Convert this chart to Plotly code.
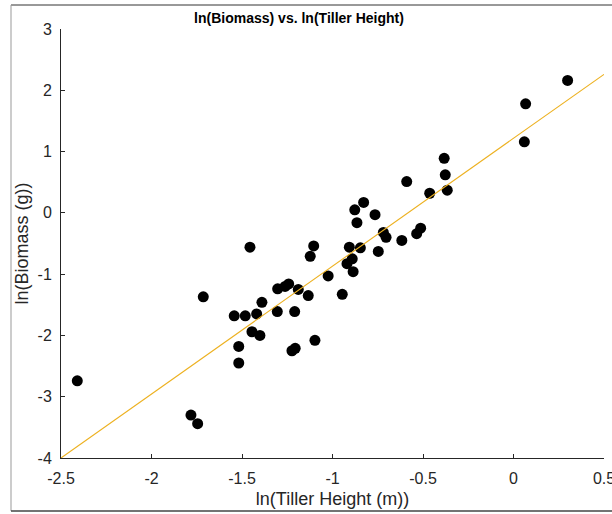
import plotly.graph_objects as go

ln_height = [-2.41, -1.782, -1.745, -1.714, -1.543, -1.482, -1.419, -1.390, -1.445, -1.401,
             -1.518, -1.518, -1.305, -1.303, -1.262, -1.242, -1.189, -1.209, -1.134, -1.224,
             -1.206, -1.097, -1.456, -1.104, -1.123, -0.946, -1.024, -0.886, -0.920, -0.891,
             -0.907, -0.846, -0.747, -0.617, -0.704, -0.719, -0.535, -0.513, -0.865, -0.765,
             -0.877, -0.828, -0.590, -0.463, -0.366, -0.377, -0.383, 0.060, 0.067, 0.299]
ln_biomass = [-2.74, -3.30, -3.44, -1.37, -1.68, -1.68, -1.65, -1.46, -1.94, -2.00,
              -2.18, -2.45, -1.61, -1.24, -1.20, -1.16, -1.25, -1.61, -1.35, -2.25,
              -2.21, -2.08, -0.56, -0.54, -0.71, -1.33, -1.03, -0.96, -0.83, -0.75,
              -0.56, -0.57, -0.63, -0.45, -0.40, -0.32, -0.34, -0.25, -0.16, -0.03,
              0.05, 0.17, 0.51, 0.32, 0.37, 0.62, 0.89, 1.16, 1.78, 2.16]

fit_x = [-2.5, 0.5]
fit_y = [-4.0, 2.26]

x_ticks = [-2.5, -2, -1.5, -1, -0.5, 0, 0.5]
x_tick_labels = ["-2.5", "-2", "-1.5", "-1", "-0.5", "0", "0.5"]
y_ticks = [-4, -3, -2, -1, 0, 1, 2, 3]
y_tick_labels = ["-4", "-3", "-2", "-1", "0", "1", "2", "3"]

axis_color = "#262626"
font_family = "Liberation Sans, Arial, sans-serif"

fig = go.Figure()
fig.add_trace(go.Scatter(x=ln_height, y=ln_biomass, mode="markers",
                         marker=dict(color="black", size=11, line=dict(width=0)),
                         showlegend=False, cliponaxis=False))
fig.add_trace(go.Scatter(x=fit_x, y=fit_y, mode="lines",
                         line=dict(color="#EDB120", width=1.1),
                         showlegend=False))

fig.update_layout(
    width=612, height=514,
    margin=dict(l=61, r=8, t=29, b=56, autoexpand=False),
    paper_bgcolor="white", plot_bgcolor="white",
    font=dict(family=font_family, size=16, color=axis_color),
    title=dict(text="<b>ln(Biomass) vs. ln(Tiller Height)</b>",
               x=299 / 612, xanchor="center", xref="container",
               y=1 - 18 / 514, yanchor="middle",
               font=dict(size=14, color="black", family=font_family)),
    xaxis=dict(range=[-2.5, 0.5], tickvals=x_ticks, ticktext=x_tick_labels,
               showgrid=False, zeroline=False, showline=True, linecolor=axis_color,
               linewidth=1, ticks="inside", ticklen=4, tickcolor=axis_color,
               ticklabelstandoff=6, ticklabeloverflow="allow", automargin=False,
               title=dict(text="ln(Tiller Height (m))", standoff=6,
                          font=dict(size=18, color=axis_color)),
               tickfont=dict(size=16, color=axis_color)),
    yaxis=dict(range=[-4, 3], tickvals=y_ticks, ticktext=y_tick_labels,
               showgrid=False, zeroline=False, showline=True, linecolor=axis_color,
               linewidth=1, ticks="inside", ticklen=4, tickcolor=axis_color,
               ticklabelstandoff=5, ticklabeloverflow="allow", automargin=False,
               title=dict(text="ln(Biomass (g))", standoff=4,
                          font=dict(size=18, color=axis_color)),
               tickfont=dict(size=16, color=axis_color)),
)

# screenshot frame around the figure
fig.add_shape(type="line", xref="paper", yref="paper",
              x0=(11 - 61) / 543, x1=1.2, y0=1 + (29 - 5) / 429, y1=1 + (29 - 5) / 429,
              line=dict(color="#333333", width=1))
fig.add_shape(type="line", xref="paper", yref="paper",
              x0=(11 - 61) / 543, x1=(11 - 61) / 543, y0=-(511 - 458) / 429, y1=1 + (29 - 5) / 429,
              line=dict(color="#999999", width=1))
fig.add_shape(type="line", xref="paper", yref="paper",
              x0=(11 - 61) / 543, x1=1.2, y0=-(511 - 458) / 429, y1=-(511 - 458) / 429,
              line=dict(color="#444444", width=1.5))

fig.write_html("out.html")
